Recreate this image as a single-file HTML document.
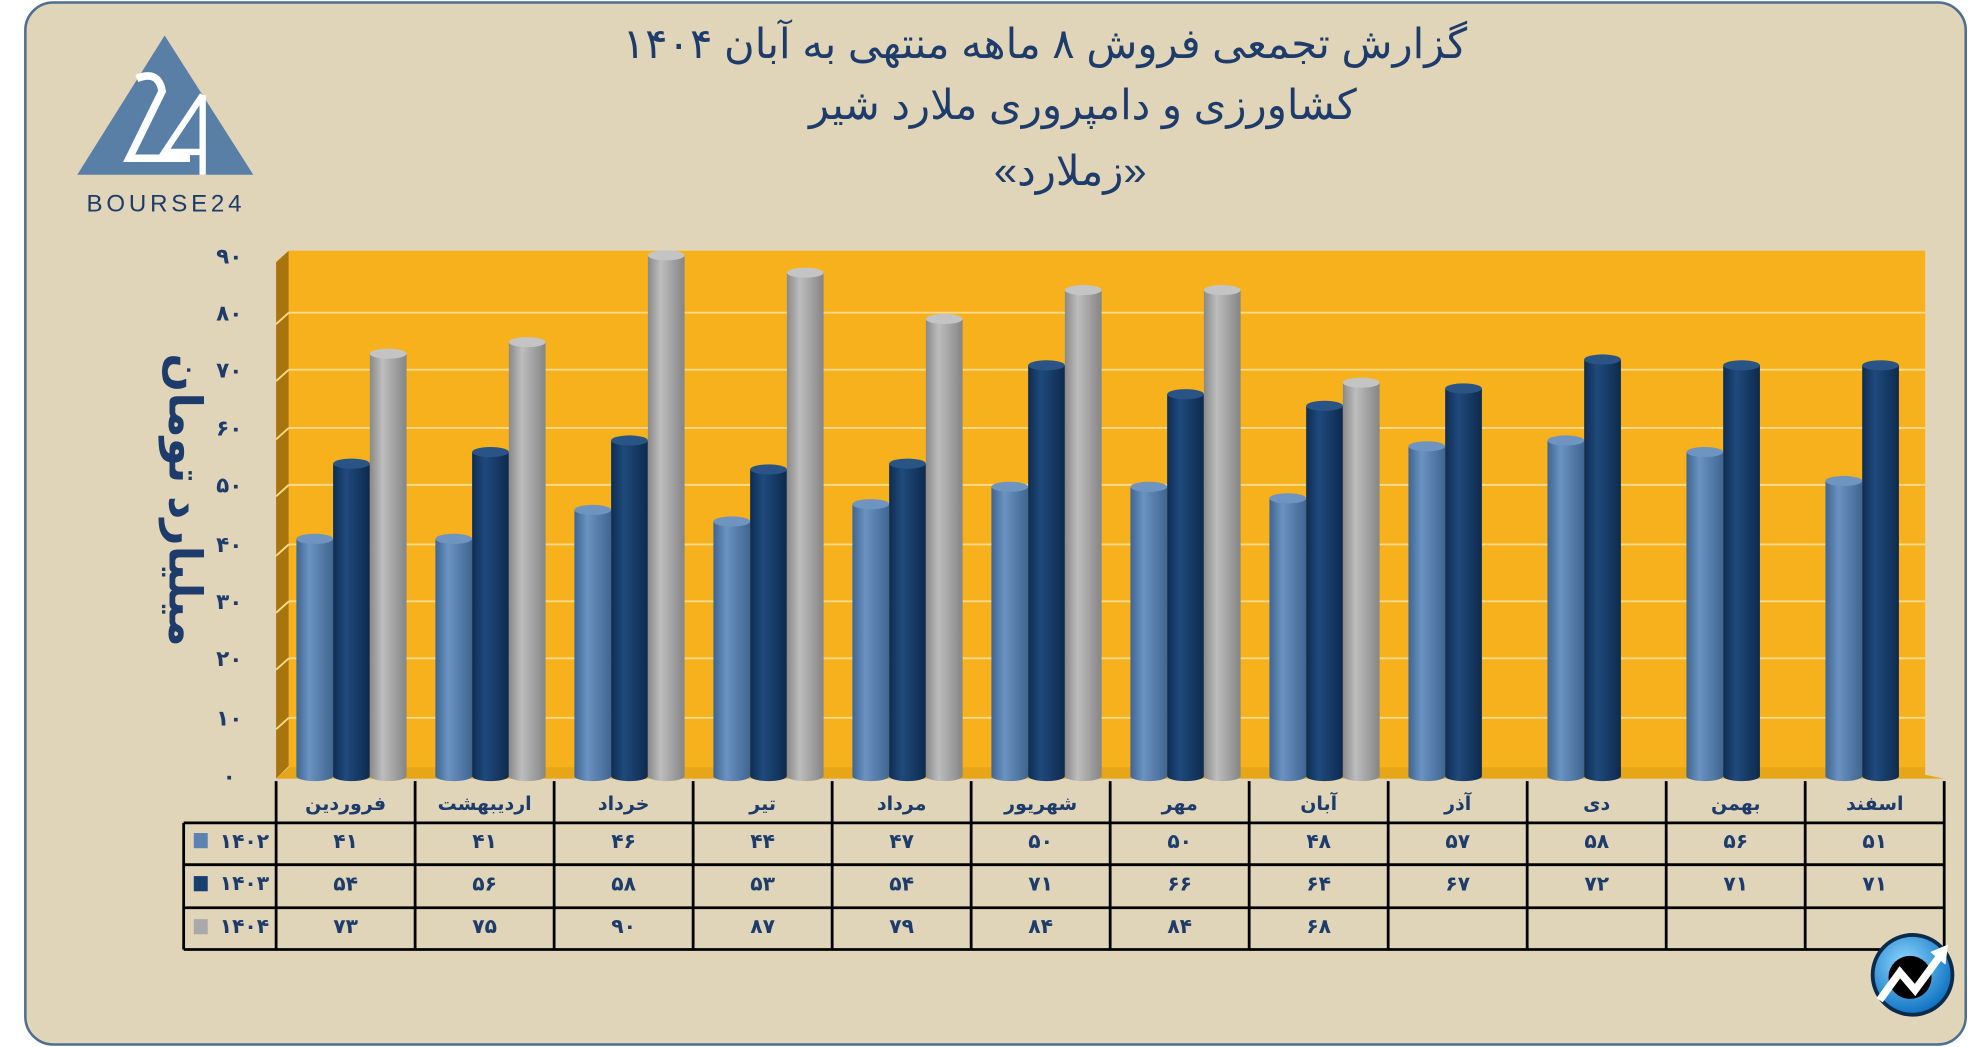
<!DOCTYPE html>
<html><head><meta charset="utf-8"><style>
html,body{margin:0;padding:0;background:#fff;}
svg{display:block;}
text{font-family:"Liberation Sans","DejaVu Sans",sans-serif;}
</style></head><body>
<svg width="1986" height="1047" viewBox="0 0 1568 827" preserveAspectRatio="none" xmlns="http://www.w3.org/2000/svg">
<defs>
<linearGradient id="g1" x1="0" x2="1" y1="0" y2="0"><stop offset="0" stop-color="#3e6592"/><stop offset="0.35" stop-color="#6b92c0"/><stop offset="1" stop-color="#3f6691"/></linearGradient>
<linearGradient id="g2" x1="0" x2="1" y1="0" y2="0"><stop offset="0" stop-color="#0e2c52"/><stop offset="0.35" stop-color="#1f4a7c"/><stop offset="1" stop-color="#0d2a4e"/></linearGradient>
<linearGradient id="g3" x1="0" x2="1" y1="0" y2="0"><stop offset="0" stop-color="#8a8a8a"/><stop offset="0.35" stop-color="#bdbdbd"/><stop offset="1" stop-color="#858585"/></linearGradient>
<radialGradient id="ic" cx="0.4" cy="0.35" r="0.7"><stop offset="0" stop-color="#8fd8ff"/><stop offset="1" stop-color="#0a6fc0"/></radialGradient>
</defs>
<rect x="20" y="2" width="1532" height="823" rx="22" fill="#e1d5b9" stroke="#4d6f90" stroke-width="2"/>
<!-- logo -->
<polygon points="130,28 61,138 200,138" fill="#5a7fa7"/>
<path d="M108,62 Q125,55 128,72 L102,125 L150,125" fill="none" stroke="#fff" stroke-width="6"/>
<path d="M160,75 L130,120 L162,120 M160,75 L160,138" fill="none" stroke="#fff" stroke-width="5"/>
<text x="131" y="167" font-size="19" fill="#1d3c6b" text-anchor="middle" letter-spacing="3">BOURSE24</text>
<!-- titles -->
<g fill="#1d3c6b" text-anchor="middle" direction="rtl" font-size="33">
<text x="825" y="46">گزارش تجمعی فروش ۸ ماهه منتهی به آبان ۱۴۰۴</text>
<text x="855" y="94">کشاورزی و دامپروری ملارد شیر</text>
<text x="845" y="146">«زملارد»</text>
</g>
<!-- plot -->
<polygon points="218,207 228,198 228,605 218,615" fill="#a8740c"/>
<rect x="228" y="198" width="1292" height="410" fill="#f6b11c"/>
<polygon points="218,615 228,606 1520,606 1520,612 1535,615" fill="#e7a518"/>
<g stroke="#f9d98c" stroke-width="1.5">
<line x1="228" y1="247" x2="1520" y2="247"/><line x1="228" y1="292" x2="1520" y2="292"/><line x1="228" y1="338" x2="1520" y2="338"/><line x1="228" y1="383" x2="1520" y2="383"/><line x1="228" y1="430" x2="1520" y2="430"/><line x1="228" y1="475" x2="1520" y2="475"/><line x1="228" y1="520" x2="1520" y2="520"/><line x1="228" y1="567" x2="1520" y2="567"/>
<line x1="218" y1="256" x2="228" y2="247"/><line x1="218" y1="301" x2="228" y2="292"/><line x1="218" y1="347" x2="228" y2="338"/><line x1="218" y1="392" x2="228" y2="383"/><line x1="218" y1="439" x2="228" y2="430"/><line x1="218" y1="484" x2="228" y2="475"/><line x1="218" y1="529" x2="228" y2="520"/><line x1="218" y1="576" x2="228" y2="567"/>
</g>
<g fill="#1d3c6b" font-size="17" font-weight="bold" text-anchor="middle">
<text x="181" y="208">۹۰</text><text x="181" y="253">۸۰</text><text x="181" y="298">۷۰</text><text x="181" y="344">۶۰</text><text x="181" y="389">۵۰</text><text x="181" y="436">۴۰</text><text x="181" y="481">۳۰</text><text x="181" y="526">۲۰</text><text x="181" y="573">۱۰</text><text x="181" y="619">۰</text>
</g>
<text transform="translate(134,395) rotate(90)" text-anchor="middle" direction="rtl" font-size="36" font-weight="bold" fill="#1d3c6b">میلیارد تومان</text>
<g id="bars"></g>
<!-- table -->
<g stroke="#000" stroke-width="2.2" fill="none">
<line x1="145" y1="650" x2="1535" y2="650"/><line x1="145" y1="683" x2="1535" y2="683"/><line x1="145" y1="717" x2="1535" y2="717"/><line x1="145" y1="750" x2="1535" y2="750"/>
<line x1="145" y1="650" x2="145" y2="750"/>
</g>
<g id="tbl"></g>
<rect x="153" y="658" width="11" height="12" fill="#5b82b0"/>
<rect x="153" y="692" width="11" height="12" fill="#173f6e"/>
<rect x="153" y="726" width="11" height="12" fill="#a9a9a9"/>
<g fill="#1d3c6b" font-size="16" font-weight="bold" text-anchor="middle">
<text x="193" y="670">۱۴۰۲</text><text x="193" y="703">۱۴۰۳</text><text x="193" y="737">۱۴۰۴</text>
</g>
<!-- icon -->
<circle cx="1510" cy="770" r="33" fill="#0b2a4a"/>
<circle cx="1510" cy="770" r="30" fill="url(#ic)"/>
<circle cx="1508" cy="772" r="17" fill="#000"/>
<path d="M1484,790 L1500,768 L1512,782 L1534,752" fill="none" stroke="#fff" stroke-width="6"/>
<polygon points="1538,746 1524,752 1536,762" fill="#fff"/>
<script>
(function(){
var d=[[41,41,46,44,47,50,50,48,57,58,56,51],[54,56,58,53,54,71,66,64,67,72,71,71],[73,75,90,87,79,84,84,68]];
var names=["فروردین","اردیبهشت","خرداد","تیر","مرداد","شهریور","مهر","آبان","آذر","دی","بهمن","اسفند"];
var fa=function(n){return String(n).replace(/\d/g,function(c){return "۰۱۲۳۴۵۶۷۸۹"[c];});};
var ns="http://www.w3.org/2000/svg",b=document.getElementById("bars"),t=document.getElementById("tbl");
function el(p,n,a,txt){var e=document.createElementNS(ns,n);for(var k in a)e.setAttribute(k,a[k]);if(txt!==undefined)e.textContent=txt;p.appendChild(e);return e;}
var tops=["#6f94c0","#2a5486","#c4c4c4"];
for(var i=0;i<12;i++){var L=218+i*109.75;
 for(var s=0;s<3;s++){if(d[s][i]===undefined)continue;var x=L+16+s*29,w=29,yt=613-d[s][i]*4.57;
  el(b,"rect",{x:x,y:yt,width:w,height:613-yt,fill:"url(#g"+(s+1)+")"});
  el(b,"ellipse",{cx:x+w/2,cy:613,rx:w/2,ry:4,fill:"url(#g"+(s+1)+")"});
  el(b,"ellipse",{cx:x+w/2,cy:yt,rx:w/2,ry:4,fill:tops[s]});}
 el(t,"line",{x1:L,y1:617,x2:L,y2:750,stroke:"#000","stroke-width":2.2});
 var c=L+54.9;
 el(t,"text",{x:c,y:640,"text-anchor":"middle",direction:"rtl","font-size":15,"font-weight":"bold",fill:"#1d3c6b"},names[i]);
 for(var s=0;s<3;s++){if(d[s][i]===undefined)continue;
  el(t,"text",{x:c,y:670+s*33.5,"text-anchor":"middle","font-size":16,"font-weight":"bold",fill:"#1d3c6b"},fa(d[s][i]));}
}
el(t,"line",{x1:1535,y1:617,x2:1535,y2:750,stroke:"#000","stroke-width":2.2});
})();
</script>
</svg>
</body></html>
